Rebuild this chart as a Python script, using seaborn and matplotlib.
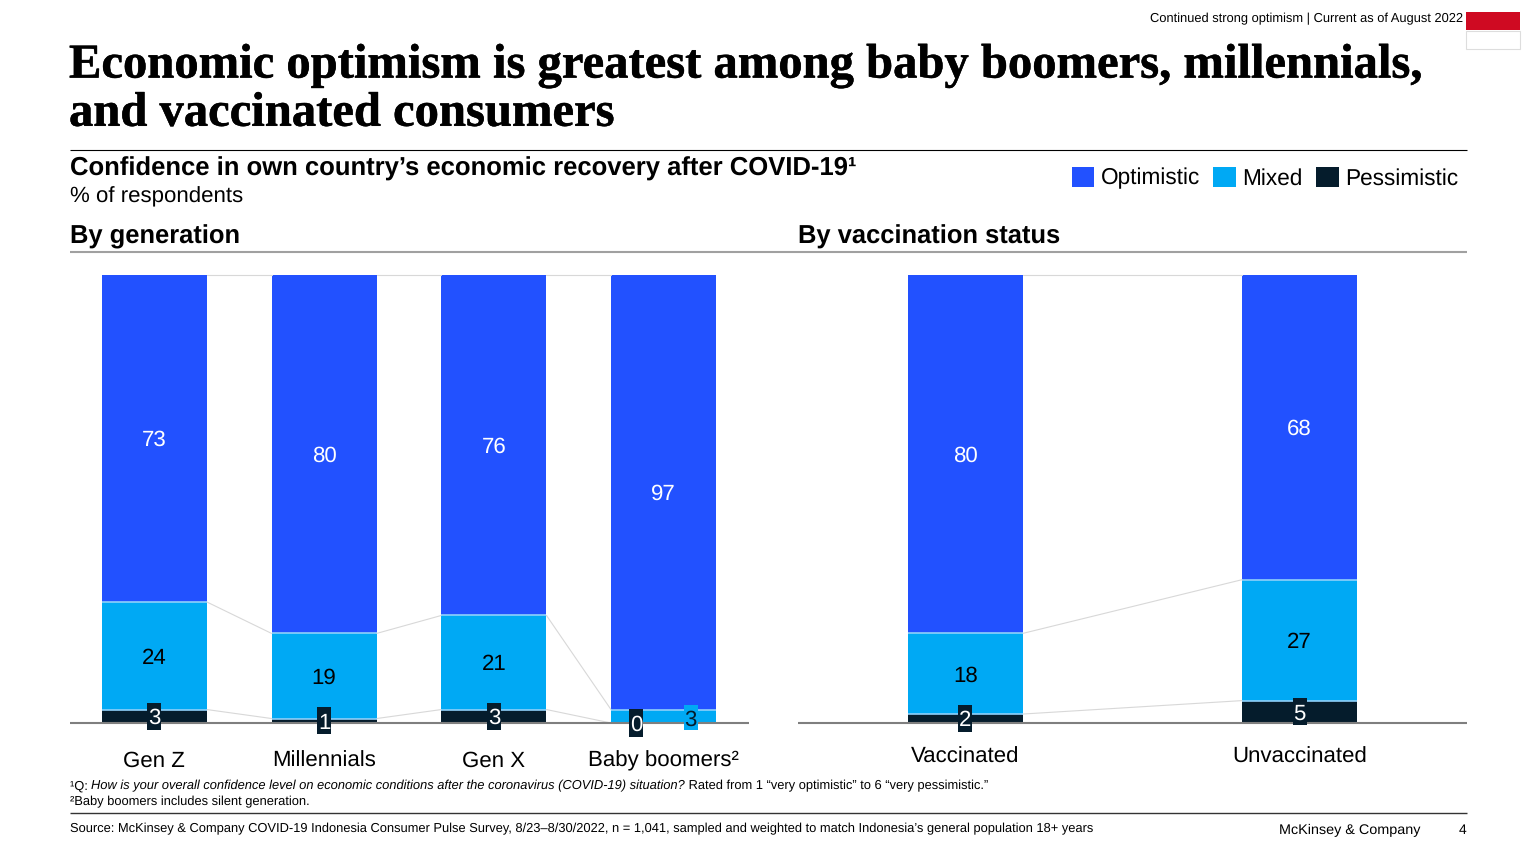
import numpy as np
import pandas as pd
import seaborn as sns
import matplotlib.pyplot as plt
import matplotlib.patheffects as pe

from matplotlib.lines import Line2D
from matplotlib.patches import Patch, Rectangle

generations = ["Gen Z", "Millennials", "Gen X", "Baby boomers²"]
gen_optimistic = [73, 80, 76, 97]
gen_mixed = [24, 19, 21, 3]
gen_pessimistic = [3, 1, 3, 0]

vaccination = ["Vaccinated", "Unvaccinated"]
vac_optimistic = [80, 68]
vac_mixed = [18, 27]
vac_pessimistic = [2, 5]

legend_labels = ["Optimistic", "Mixed", "Pessimistic"]

BLUE = "#2251ff"
CYAN = "#00a9f4"
NAVY = "#051c2c"
SEP = "#8fd0fa"
CONNECT = "#d8d8d8"

W, H = 1536, 864

sns.set_theme(style="white")
plt.rcParams["font.family"] = ["Liberation Sans", "DejaVu Sans"]
plt.rcParams["text.color"] = "black"
plt.rcParams["text.hinting"] = "no_hinting"

fig = plt.figure(figsize=(W / 100, H / 100), dpi=100, facecolor="white")


def px_text(x, y, s, **kw):
    kw.setdefault("va", "center")
    return fig.text(x / W, 1 - y / H, s, **kw)


def px_line(x0, x1, y, color, lw):
    fig.add_artist(Line2D([x0 / W, x1 / W], [1 - y / H, 1 - y / H], color=color, linewidth=lw,
                          solid_capstyle="butt"))


def px_axes(x0, x1, y0, y1):
    return fig.add_axes([x0 / W, 1 - y1 / H, (x1 - x0) / W, (y1 - y0) / H])


def box_label(ax, x, y, text, fc, tc, box_w, box_h=6.1):
    # small values get a little box so they stay readable
    ax.add_patch(Rectangle((x - box_w / 2, y - box_h / 2), box_w, box_h, facecolor=fc,
                           edgecolor="none", clip_on=False, zorder=5))
    ax.text(x, y - 0.5, text, color=tc, ha="center", va="center", fontsize=16, zorder=6, clip_on=False)


def stacked(ax, cats, opt, mix, pes, width, pad):
    opt, mix, pes = map(np.array, (opt, mix, pes))
    df = pd.DataFrame({"cat": cats, "low": pes, "mid": pes + mix, "top": pes + mix + opt})

    # cumulative heights drawn back to front
    for col, color in zip(["top", "mid", "low"], [BLUE, CYAN, NAVY]):
        sns.barplot(data=df, x="cat", y=col, color=color, width=width, saturation=1,
                    linewidth=0, errorbar=None, ax=ax)

    xs = np.arange(len(cats))
    for col in ["low", "mid", "top"]:
        for i in xs[:-1]:
            ax.plot([i + width / 2, i + 1 - width / 2], [df[col][i], df[col][i + 1]],
                    color=CONNECT, linewidth=0.8, zorder=1, clip_on=False)
    for col in ["low", "mid"]:
        for i in xs:
            if df[col][i] > 0:
                ax.plot([i - width / 2, i + width / 2], [df[col][i]] * 2, color=SEP,
                        linewidth=1.2, zorder=3, solid_capstyle="butt")

    ax.set_ylim(0, 100)
    ax.set_xlim(-0.5, len(cats) - 0.5)
    ax.set_xlabel("")
    ax.set_ylabel("")
    ax.set_yticks([])
    ax.set_xticks(xs)
    ax.set_xticklabels(cats, fontsize=16, color="black")
    ax.tick_params(axis="x", length=0, pad=pad)
    ax.patch.set_alpha(0)
    sns.despine(ax=ax, left=True)
    ax.spines["bottom"].set_color("#7f7f7f")
    ax.spines["bottom"].set_linewidth(1.5)
    ax.spines["bottom"].set_capstyle("butt")
    ax.spines["bottom"].set_zorder(4)

    box_w = 14 / (ax.get_position().width * W / len(cats))
    for i in xs:
        ax.text(i, pes[i] + mix[i] + opt[i] / 2 - 0.45, str(opt[i]), color="white", ha="center",
                va="center", fontsize=16, zorder=6)
        if mix[i] >= 10:
            ax.text(i, pes[i] + mix[i] / 2 - 0.5, str(mix[i]), color="black", ha="center",
                    va="center", fontsize=16, zorder=6)
            box_label(ax, i, pes[i] / 2, str(pes[i]), NAVY, "white", box_w)
        else:
            # both values too thin for the bar, so they sit side by side
            box_label(ax, i - 0.16, pes[i] / 2, str(pes[i]), NAVY, "white", box_w)
            box_label(ax, i + 0.16, pes[i] + mix[i] / 2 - 0.3, str(mix[i]), CYAN, NAVY, box_w, box_h=5.6)


ax1 = px_axes(69.5, 748.5, 275, 723)
stacked(ax1, generations, gen_optimistic, gen_mixed, gen_pessimistic, 0.62, 20)
ax2 = px_axes(798, 1467, 275, 723)
stacked(ax2, vaccination, vac_optimistic, vac_mixed, vac_pessimistic, 0.344, 17)

# header
px_text(1463, 19, "Continued strong optimism | Current as of August 2022", fontsize=9.3, ha="right")
fig.add_artist(Rectangle((1466 / W, 1 - 49 / H), 54 / W, 18 / H, transform=fig.transFigure,
                         facecolor="white", edgecolor="#dddddd", linewidth=0.8))
fig.add_artist(Rectangle((1466 / W, 1 - 30 / H), 54 / W, 18 / H, transform=fig.transFigure,
                         facecolor="#cf0a22", edgecolor="none"))

# heavier than Liberation Serif Bold on its own, so thicken it a bit
title_font = dict(family="Liberation Serif", fontweight="bold", fontsize=35,
                  path_effects=[pe.withStroke(linewidth=0.35, foreground="black")])
px_text(69, 66, "Economic optimism is greatest among baby boomers, millennials,", **title_font)
px_text(69, 114, "and vaccinated consumers", **title_font)

px_line(70, 1467, 149.5, "black", 0.8)
px_text(70, 169, "Confidence in own country’s economic recovery after COVID-19¹", fontsize=18.45,
        fontweight="bold")
px_text(70, 197, "% of respondents", fontsize=16)

px_text(70, 237, "By generation", fontsize=18.4, fontweight="bold")
px_text(798, 237, "By vaccination status", fontsize=18.4, fontweight="bold")
px_line(70, 1467, 252, "#a0a0a0", 1.5)

handles = [Patch(facecolor=c, edgecolor="none", label=l) for c, l in zip([BLUE, CYAN, NAVY], legend_labels)]
fig.legend(handles=handles, loc="center right", bbox_to_anchor=(1458 / W, 1 - 178 / H), ncol=3, frameon=False,
           fontsize=16.3, handlelength=1.0, handleheight=1.0, handletextpad=0.27, columnspacing=0.6,
           borderpad=0, borderaxespad=0)

# footnotes
note = px_text(70, 786, "¹Q: ", fontsize=9.26)
note = plt.annotate("How is your overall confidence level on economic conditions after the coronavirus (COVID-19) situation?",
                    xy=(1, 0), xycoords=note, va="bottom", fontsize=9.26, fontstyle="italic",
                    annotation_clip=False)
plt.annotate(" Rated from 1 “very optimistic” to 6 “very pessimistic.”", xy=(1, 0), xycoords=note, va="bottom",
             fontsize=9.26, annotation_clip=False)
px_text(70, 802, "²Baby boomers includes silent generation.", fontsize=9.26)

px_line(70, 1467, 813, "#333333", 1)
px_text(70, 829, "Source: McKinsey & Company COVID-19 Indonesia Consumer Pulse Survey, 8/23–8/30/2022, n = 1,041, "
        "sampled and weighted to match Indonesia’s general population 18+ years", fontsize=9.32)
px_text(1420, 830, "McKinsey & Company", fontsize=10.35, ha="right")
px_text(1466, 830, "4", fontsize=10, ha="right")

plt.savefig("out.png", dpi=100, facecolor="white")
